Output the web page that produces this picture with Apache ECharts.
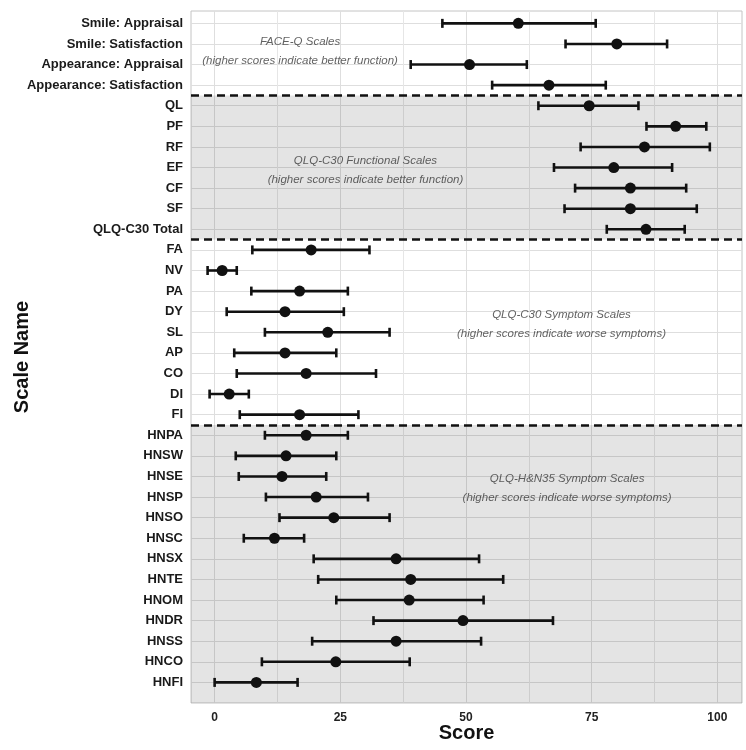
<!DOCTYPE html>
<html>
<head>
<meta charset="utf-8">
<script src="https://cdn.jsdelivr.net/npm/echarts@6/dist/echarts.min.js"></script>
<style>html,body{margin:0;padding:0;background:#fff}#chart{width:746px;height:750px}</style>
</head>
<body>
<div id="chart"></div>
<script>
const categories = [
  'Smile: Appraisal','Smile: Satisfaction','Appearance: Appraisal','Appearance: Satisfaction',
  'QL','PF','RF','EF','CF','SF','QLQ-C30 Total',
  'FA','NV','PA','DY','SL','AP','CO','DI','FI',
  'HNPA','HNSW','HNSE','HNSP','HNSO','HNSC','HNSX','HNTE','HNOM','HNDR','HNSS','HNCO','HNFI'
];
const means = [
  60.4, 80.0, 50.7, 66.5,
  74.5, 91.7, 85.5, 79.4, 82.7, 82.7, 85.8,
  19.2, 1.5, 16.9, 14.0, 22.5, 14.0, 18.2, 2.9, 16.9,
  18.2, 14.2, 13.4, 20.2, 23.7, 11.9, 36.1, 39.0, 38.7, 49.4, 36.1, 24.1, 8.3
];
const lowers = [
  45.3, 69.8, 39.0, 55.2,
  64.4, 85.9, 72.8, 67.5, 71.7, 69.6, 78.0,
  7.5, -1.4, 7.3, 2.4, 10.0, 3.9, 4.4, -1.0, 5.0,
  10.0, 4.2, 4.8, 10.2, 12.9, 5.8, 19.7, 20.6, 24.2, 31.6, 19.4, 9.4, 0.0
];
const uppers = [
  75.8, 90.0, 62.1, 77.8,
  84.3, 97.8, 98.5, 91.0, 93.8, 95.9, 93.5,
  30.8, 4.4, 26.5, 25.7, 34.8, 24.2, 32.1, 6.8, 28.6,
  26.5, 24.2, 22.2, 30.5, 34.8, 17.8, 52.6, 57.4, 53.5, 67.3, 53.0, 38.8, 16.5
];
const xTicks = [0, 25, 50, 75, 100];
const xMinorTicks = [12.5, 37.5, 62.5, 87.5];
// group boundaries (between rows, 1-based row index from top)
const groupBreaks = [4.5, 11.5, 20.5];
const shadedGroups = [[4.5, 11.5], [20.5, 34]];
const annotationTitles = ['FACE-Q Scales', 'QLQ-C30 Functional Scales', 'QLQ-C30 Symptom Scales', 'QLQ-H&N35 Symptom Scales'];
const annotationSubtitles = ['(higher scores indicate better function)', '(higher scores indicate better function)', '(higher scores indicate worse symptoms)', '(higher scores indicate worse symptoms)'];
const annotationPos = [[17.0, 2.38], [30.0, 8.14], [69.0, 15.59], [70.1, 23.59]];

const rows = categories.map((c, i) => i + 1);
const barData = categories.map((c, i) => [lowers[i], uppers[i], i + 1]);
const pointData = categories.map((c, i) => [means[i], i + 1]);
const annData = annotationTitles.map((t, i) => ({
  value: annotationPos[i],
  name: t + '\n' + annotationSubtitles[i]
}));

const chart = echarts.init(document.getElementById('chart'), null, {renderer: 'canvas'});
const ink = '#111';
chart.setOption({
  animation: false,
  backgroundColor: '#fff',
  grid: {left: 191, right: 4, top: 11, bottom: 47, show: true, borderColor: '#c4c4c4', borderWidth: 1,
    backgroundColor: '#fff', containLabel: false, outerBoundsMode: 'none'},
  xAxis: [{
    type: 'value', min: -4.7, max: 104.9,
    name: 'Score', nameLocation: 'middle', nameGap: 20, nameMoveOverlap: false,
    nameTextStyle: {fontFamily: 'Liberation Sans', fontWeight: 'bold', fontSize: 20, color: '#111'},
    axisLine: {show: false}, axisTick: {show: false, customValues: xTicks},
    axisLabel: {customValues: xTicks, fontFamily: 'Liberation Sans', fontWeight: 'bold', fontSize: 12, color: '#222', margin: 9},
    splitLine: {show: true, lineStyle: {color: '#dedede', width: 1}}
  }, {
    type: 'value', min: -4.7, max: 104.9, position: 'top',
    axisLine: {show: false}, axisTick: {show: false, customValues: xMinorTicks},
    axisLabel: {show: false, customValues: xMinorTicks},
    splitLine: {show: true, lineStyle: {color: '#e6e6e6', width: 1}}
  }],
  yAxis: {
    type: 'value', inverse: true, min: 0.4, max: 34,
    name: 'Scale Name', nameLocation: 'middle', nameGap: 159, nameRotate: 90, nameMoveOverlap: false,
    nameTextStyle: {fontFamily: 'Liberation Sans', fontWeight: 'bold', fontSize: 20, color: '#111'},
    axisLine: {show: false}, axisTick: {show: false, customValues: rows},
    axisLabel: {customValues: rows, formatter: v => categories[Math.round(v) - 1] || '',
      fontFamily: 'Liberation Sans', fontWeight: 'bold', fontSize: 13, color: '#1a1a1a', margin: 8},
    splitLine: {show: true, lineStyle: {color: '#dedede', width: 1}}
  },
  series: [{
    type: 'custom',
    data: barData,
    encode: {x: [0, 1], y: 2},
    z: 3,
    renderItem: function (params, api) {
      const y = api.value(2);
      const p1 = api.coord([api.value(0), y]);
      const p2 = api.coord([api.value(1), y]);
      const h = 4.5;
      const st = {stroke: ink, lineWidth: 2.6};
      return {type: 'group', children: [
        {type: 'line', shape: {x1: p1[0], y1: p1[1], x2: p2[0], y2: p2[1]}, style: st},
        {type: 'line', shape: {x1: p1[0], y1: p1[1] - h, x2: p1[0], y2: p1[1] + h}, style: st},
        {type: 'line', shape: {x1: p2[0], y1: p2[1] - h, x2: p2[0], y2: p2[1] + h}, style: st}
      ]};
    },
    markArea: {
      silent: true,
      itemStyle: {color: 'rgba(0,0,0,0.105)'},
      data: shadedGroups.map(g => [{yAxis: g[0]}, {yAxis: g[1]}])
    },
    markLine: {
      silent: true, symbol: 'none',
      label: {show: false},
      lineStyle: {color: ink, width: 2.6, type: [8, 5]},
      data: groupBreaks.map(b => ({yAxis: b}))
    }
  }, {
    type: 'scatter',
    data: pointData,
    symbol: 'circle', symbolSize: 11,
    itemStyle: {color: ink, opacity: 1},
    z: 4
  }, {
    type: 'scatter',
    data: annData,
    symbolSize: 0,
    z: 5,
    label: {
      show: true, position: 'inside', formatter: p => p.name,
      fontFamily: 'Liberation Sans', fontStyle: 'italic', fontSize: 11.5, color: '#3a3a3a',
      lineHeight: 19, align: 'center', verticalAlign: 'middle'
    }
  }]
});
</script>
</body>
</html>
